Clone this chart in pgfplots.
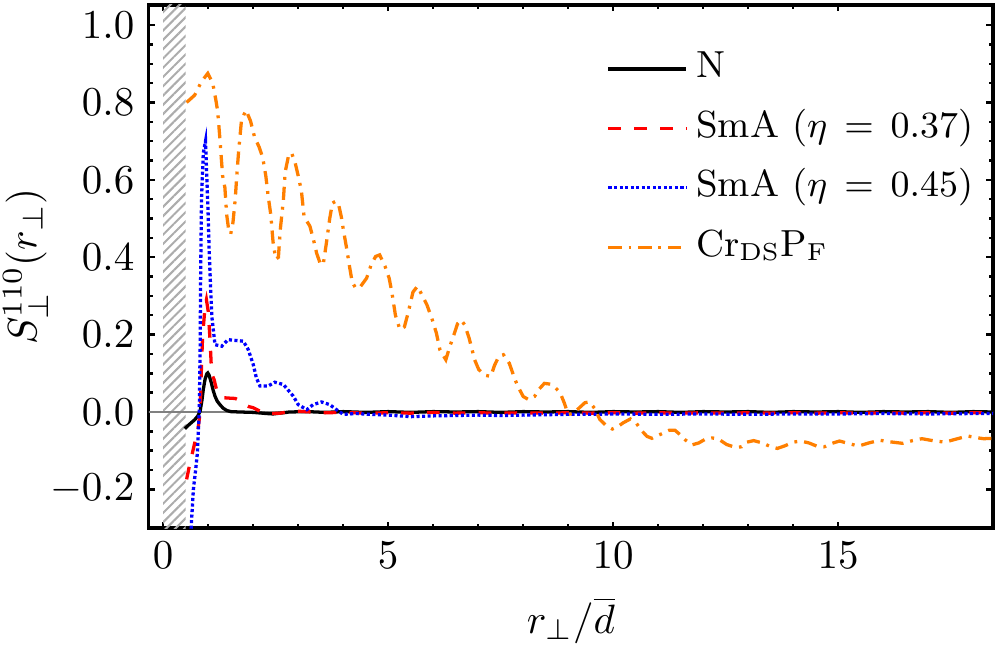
\documentclass[border=0pt]{standalone}
\usepackage{pgfplots}
\pgfplotsset{compat=1.18}
\usetikzlibrary{patterns.meta}
\definecolor{crorange}{RGB}{255,127,0}
\begin{document}
\begin{tikzpicture}
\begin{axis}[
  scale only axis,
  width=205.9pt, height=127.6pt,
  xmin=-0.32, xmax=18.44,
  ymin=-0.3, ymax=1.052,
  xtick={0,5,10,15},
  minor x tick num=4,
  ytick={-0.2,0,0.2,0.4,0.6,0.8,1.0},
  minor y tick num=3,
  yticklabel style={/pgf/number format/.cd,fixed,fixed zerofill,precision=1},
  tick align=inside,
  major tick length=1.6pt,
  minor tick length=1.1pt,
  every tick/.style={black, line width=0.6pt},
  axis line style={line width=0.8pt},
  xlabel={$r_\perp/\overline{d}$},
  ylabel={$S_\perp^{110}(r_\perp)$},
  every axis y label/.style={at={(axis description cs:-0.146,0.5)}, anchor=center, rotate=90},
  clip=true,
  legend cell align=left,
  legend style={draw=none, fill=none, at={(0.527,1)}, anchor=north west, yshift=-6.6pt,
    font=\fontsize{9.2}{11}\selectfont, row sep=0.9pt,
    nodes={inner sep=2pt, text height=7pt, text depth=2.6pt}},
  legend image code/.code={\draw[#1] (0pt,0pt) -- (19pt,0pt);},
]
% hatched excluded region
\addplot[draw=none, forget plot, pattern={Lines[angle=45,distance=1.6pt,line width=0.5pt]}, pattern color=gray!65]
  coordinates {(0,-0.4) (0.5,-0.4) (0.5,1.1) (0,1.1)} -- cycle;
% zero line
\addplot[gray, line width=0.3pt, forget plot] coordinates {(-1,0) (20,0)};

% N
\addplot[black, line width=0.8pt] coordinates {
(0.48,-0.043) (0.55,-0.035) (0.62,-0.028) (0.70,-0.02) (0.77,-0.01) (0.82,0.002)
(0.86,0.03) (0.89,0.058) (0.93,0.085) (0.97,0.099) (0.99,0.101) (1.02,0.095)
(1.07,0.075) (1.11,0.056) (1.15,0.041) (1.2,0.028) (1.26,0.019) (1.33,0.01)
(1.41,0.004) (1.5,0.001) (1.7,0.0) (2.0,-0.001) (2.3,-0.004) (2.44,-0.005)
(2.6,-0.003) (2.8,0.0) (3.2,0.001) (3.6,-0.001) (4.0,0.001) (4.5,-0.001)
(5.0,0.001) (5.5,-0.001) (6.0,0.001) (6.5,0.0) (7.0,0.001) (7.5,-0.001)
(8.0,0.001) (8.5,0.0) (9.0,0.001) (9.5,-0.001) (10.0,0.001) (10.5,0.0)
(11.0,0.001) (11.5,-0.001) (12.0,0.001) (12.5,0.0) (13.0,0.001) (13.5,-0.001)
(14.0,0.001) (14.5,0.0) (15.0,0.001) (15.5,-0.001) (16.0,0.001) (16.5,0.0)
(17.0,0.001) (17.5,-0.001) (18.0,0.001) (18.44,0.0)
};
\addlegendentry{N}

% SmA 0.37
\addplot[red, line width=0.8pt, dash pattern=on 3.1pt off 3.2pt] coordinates {
(0.52,-0.174) (0.58,-0.14) (0.64,-0.11) (0.70,-0.08) (0.76,-0.054) (0.80,-0.02)
(0.82,0.0) (0.85,0.118) (0.875,0.196) (0.93,0.273) (0.96,0.29) (1.0,0.26)
(1.04,0.187) (1.07,0.114) (1.10,0.092) (1.13,0.084) (1.18,0.06) (1.25,0.042)
(1.33,0.037) (1.45,0.036) (1.6,0.035) (1.7,0.03) (1.8,0.02) (1.9,0.014)
(2.0,0.011) (2.1,0.005) (2.22,-0.002) (2.4,-0.004) (2.6,-0.003) (2.8,0.001)
(3.0,0.002) (3.3,0.0) (3.6,-0.002) (4.0,-0.001) (4.5,-0.003) (5.0,-0.002)
(5.5,-0.003) (6.0,-0.001) (6.5,-0.003) (7.0,-0.002) (7.5,-0.003) (8.0,-0.002)
(8.5,-0.003) (9.0,-0.002) (9.5,-0.003) (10.0,-0.002) (10.5,-0.003) (11.0,-0.002)
(11.5,-0.003) (12.0,-0.002) (12.5,-0.003) (13.0,-0.002) (13.5,-0.003) (14.0,-0.002)
(14.5,-0.003) (15.0,-0.002) (15.5,-0.003) (16.0,-0.002) (16.5,-0.003) (17.0,-0.002)
(17.5,-0.003) (18.0,-0.002) (18.44,-0.002)
};
\addlegendentry{SmA ($\eta\,=\,0.37$)}

% SmA 0.45
\addplot[blue, line width=0.8pt, dash pattern=on 0.75pt off 0.6pt] coordinates {
(0.60,-0.33) (0.62,-0.3) (0.67,-0.2) (0.72,-0.15) (0.76,-0.105) (0.80,-0.002)
(0.82,0.161) (0.83,0.333) (0.85,0.548) (0.89,0.669) (0.94,0.70) (0.96,0.634)
(1.0,0.505) (1.02,0.419) (1.05,0.33) (1.08,0.247) (1.15,0.174) (1.3,0.17)
(1.44,0.187) (1.6,0.185) (1.78,0.183) (1.89,0.161) (2.0,0.123) (2.07,0.088)
(2.15,0.067) (2.33,0.067) (2.48,0.077) (2.67,0.071) (2.89,0.041) (3.0,0.019)
(3.19,0.006) (3.33,0.019) (3.52,0.026) (3.70,0.019) (3.85,0.006) (4.0,-0.006)
(4.3,-0.004) (4.6,-0.006) (5.0,-0.008) (5.5,-0.012) (6.0,-0.010) (6.5,-0.009)
(7.0,-0.008) (7.5,-0.009) (8.0,-0.008) (8.5,-0.007) (9.0,-0.006) (9.5,-0.006)
(10.0,-0.005) (11.0,-0.006) (12.0,-0.005) (13.0,-0.006) (14.0,-0.005)
(15.0,-0.005) (16.0,-0.004) (17.0,-0.005) (18.0,-0.004) (18.44,-0.004)
};
\addlegendentry{SmA ($\eta\,=\,0.45$)}

% Cr_DS P_F
\addplot[crorange, line width=0.8pt, dash pattern=on 3.2pt off 1.7pt on 0.7pt off 1.7pt] coordinates {
(0.52,0.80) (0.70,0.819) (0.85,0.854) (0.99,0.875) (1.10,0.85) (1.17,0.806)
(1.21,0.777) (1.25,0.72) (1.32,0.61) (1.37,0.58) (1.41,0.51) (1.45,0.475)
(1.50,0.46) (1.55,0.49) (1.60,0.55) (1.64,0.62) (1.68,0.68) (1.74,0.755)
(1.84,0.78) (1.94,0.752) (2.03,0.71) (2.13,0.685) (2.21,0.658) (2.28,0.61)
(2.33,0.56) (2.39,0.51) (2.44,0.44) (2.5,0.395) (2.56,0.40) (2.60,0.47)
(2.67,0.548) (2.71,0.62) (2.78,0.66) (2.85,0.67) (2.93,0.645) (3.0,0.61)
(3.07,0.572) (3.13,0.505) (3.26,0.48) (3.34,0.445) (3.41,0.41) (3.5,0.38)
(3.56,0.385) (3.63,0.44) (3.70,0.50) (3.76,0.54) (3.84,0.545) (3.90,0.535)
(3.96,0.503) (4.0,0.473) (4.08,0.42) (4.14,0.376) (4.2,0.335) (4.28,0.32)
(4.37,0.322) (4.52,0.346) (4.62,0.38) (4.72,0.402) (4.81,0.406) (4.93,0.376)
(5.02,0.346) (5.08,0.31) (5.16,0.25) (5.26,0.213) (5.36,0.22) (5.45,0.26)
(5.55,0.31) (5.65,0.325) (5.76,0.30) (5.86,0.277) (5.98,0.238) (6.07,0.204)
(6.15,0.16) (6.28,0.135) (6.37,0.17) (6.45,0.196) (6.54,0.228) (6.62,0.238)
(6.70,0.225) (6.80,0.19) (6.92,0.135) (7.01,0.11) (7.15,0.095) (7.28,0.092)
(7.36,0.12) (7.45,0.142) (7.56,0.148) (7.69,0.126) (7.82,0.083) (7.90,0.062)
(8.0,0.04) (8.12,0.032) (8.25,0.04) (8.36,0.06) (8.47,0.074) (8.60,0.072)
(8.72,0.062) (8.82,0.05) (8.91,0.024) (9.0,-0.006) (9.1,-0.004) (9.22,0.008)
(9.37,0.024) (9.47,0.026) (9.59,0.009) (9.70,-0.019) (9.85,-0.036) (9.98,-0.044)
(10.1,-0.038) (10.22,-0.028) (10.38,-0.018) (10.52,-0.03) (10.63,-0.048)
(10.75,-0.063) (10.86,-0.068) (10.97,-0.062) (11.1,-0.055) (11.25,-0.047)
(11.37,-0.047) (11.5,-0.06) (11.6,-0.072) (11.75,-0.085) (11.9,-0.08)
(12.05,-0.07) (12.2,-0.067) (12.34,-0.07) (12.52,-0.084) (12.7,-0.091)
(12.85,-0.09) (12.97,-0.078) (13.12,-0.074) (13.32,-0.08) (13.5,-0.09)
(13.65,-0.094) (13.8,-0.088) (14.0,-0.078) (14.17,-0.075) (14.35,-0.08)
(14.52,-0.088) (14.69,-0.09) (14.86,-0.081) (15.03,-0.075) (15.25,-0.082)
(15.45,-0.088) (15.68,-0.08) (15.92,-0.073) (16.15,-0.077) (16.43,-0.081)
(16.65,-0.074) (16.86,-0.069) (17.1,-0.074) (17.37,-0.078) (17.62,-0.07)
(17.88,-0.062) (18.05,-0.066) (18.23,-0.069) (18.44,-0.068)
};
\addlegendentry{Cr$_{\mathrm{DS}}$P$_{\mathrm{F}}$}
\end{axis}
\pgfresetboundingbox
\path[use as bounding box] ([xshift=-36.3pt,yshift=-29.3pt]current axis.south west) rectangle ([xshift=1.7pt,yshift=1.2pt]current axis.north east);
\end{tikzpicture}
\end{document}
